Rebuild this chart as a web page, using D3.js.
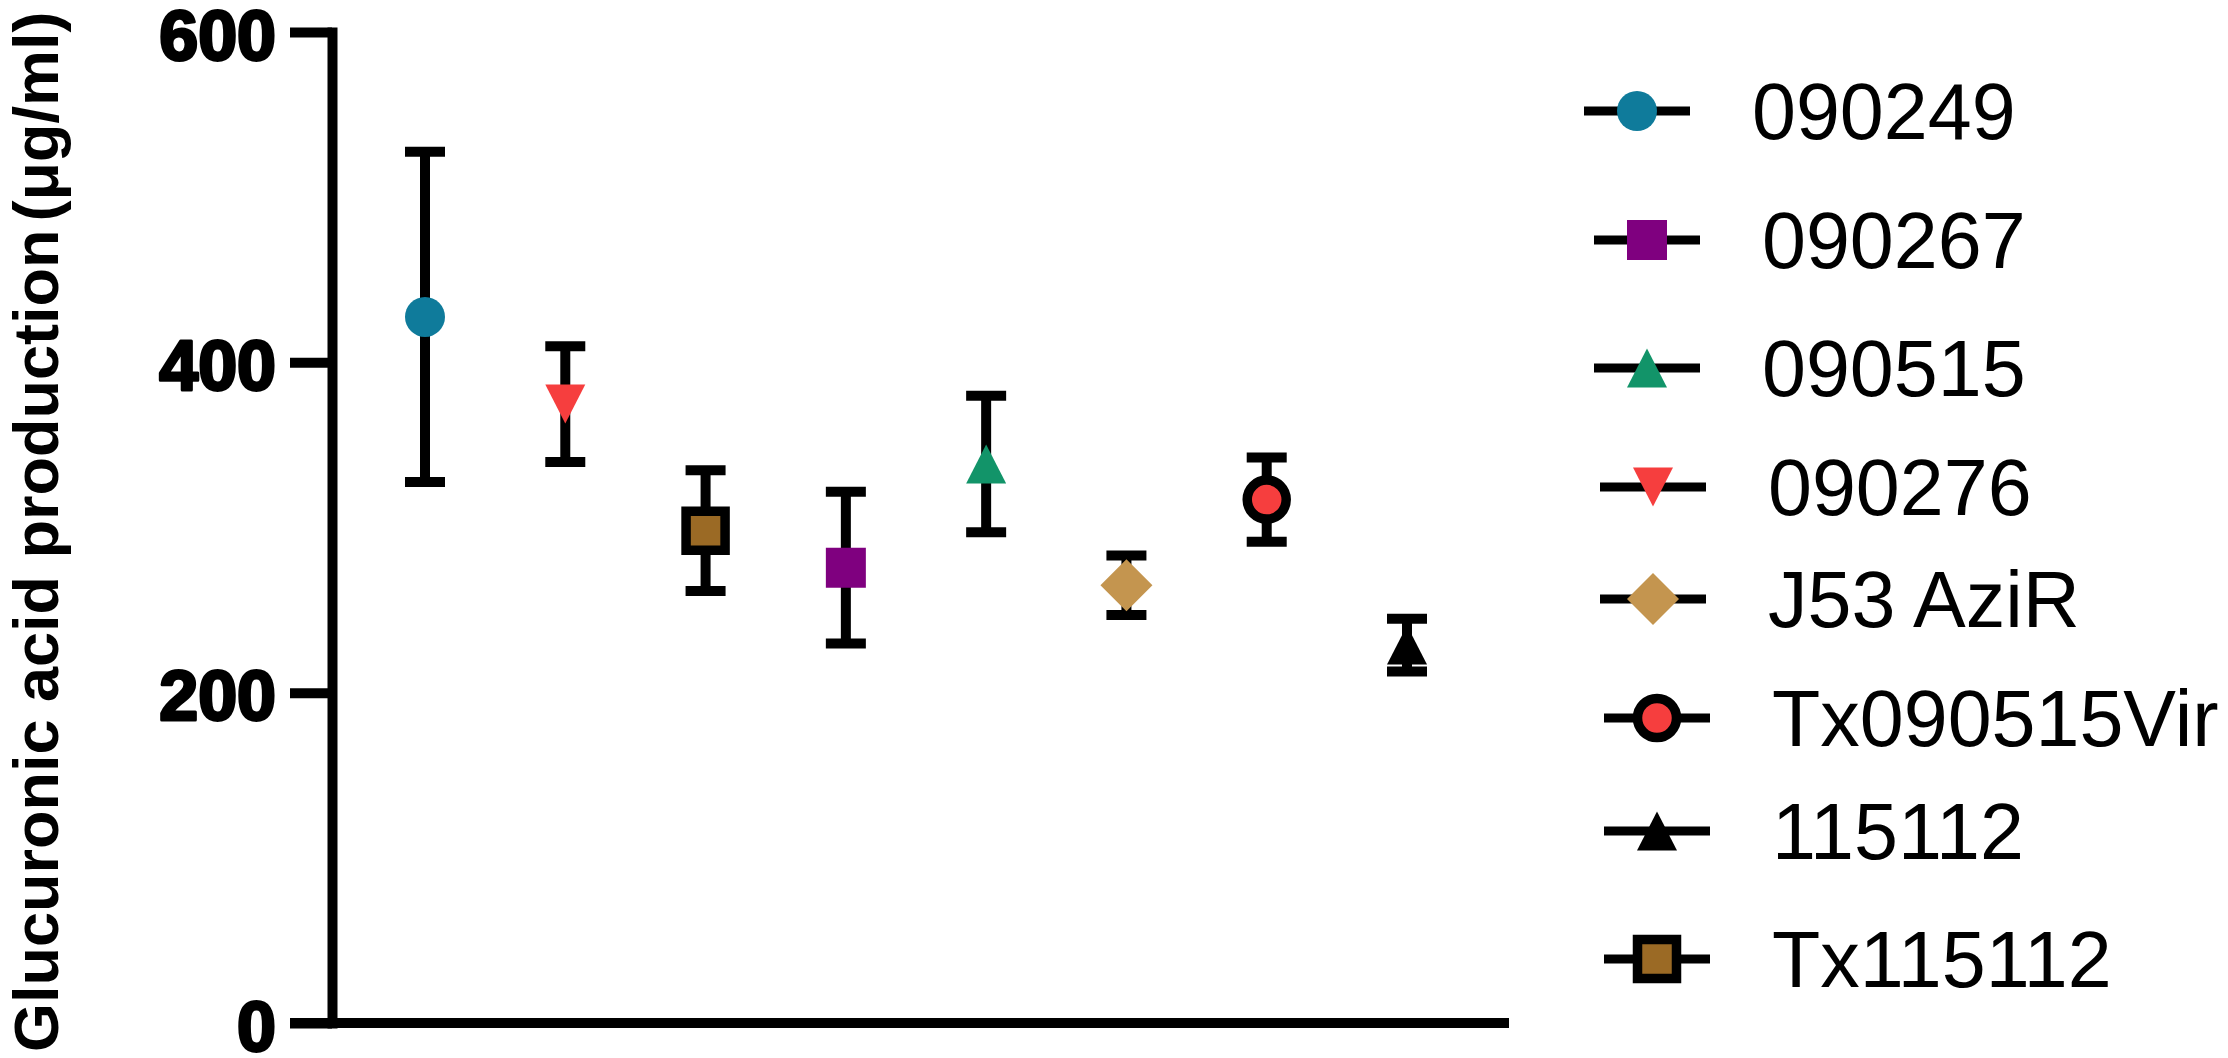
<!DOCTYPE html>
<html>
<head>
<meta charset="utf-8">
<script src="https://cdn.jsdelivr.net/npm/d3@7"></script>
<style>
  html, body { margin: 0; padding: 0; background: #fff; }
  svg { display: block; }
</style>
</head>
<body>
<svg id="chart" width="2228" height="1058"></svg>
<script>
// ---------- data ----------
const categories = ["090249", "090276", "Tx115112", "090267", "090515", "J53 AziR", "Tx090515Vir", "115112"];
const means      = [427.5, 374.7, 298.1, 275.7, 338.4, 265.0, 316.9, 228.8];
const sds        = [100.0, 35.0, 36.6, 46.0, 41.3, 18.0, 25.5, 16.0];
const legendOrder = ["090249", "090267", "090515", "090276", "J53 AziR", "Tx090515Vir", "115112", "Tx115112"];
const yTicks = [0, 200, 400, 600];
const yTitleMain = "Glucuronic acid production";
const yTitleUnit = "(μg/ml)";

// ---------- styles ----------
const styles = {
  "090249":      { shape: "circle",   fill: "#0F7B9B", stroke: "none" },
  "090267":      { shape: "square",   fill: "#7F007F", stroke: "none" },
  "090515":      { shape: "triUp",    fill: "#129469", stroke: "none" },
  "090276":      { shape: "triDown",  fill: "#F63E3E", stroke: "none" },
  "J53 AziR":    { shape: "diamond",  fill: "#C4954F", stroke: "none" },
  "Tx090515Vir": { shape: "circleO",  fill: "#F63E3E", stroke: "#000" },
  "115112":      { shape: "triUp",    fill: "#000000", stroke: "none" },
  "Tx115112":    { shape: "squareO",  fill: "#9B6A25", stroke: "#000" }
};

function shapePath(shape) {
  switch (shape) {
    case "circle":  { const r = 20; return `M${-r},0A${r},${r} 0 1,0 ${r},0A${r},${r} 0 1,0 ${-r},0Z`; }
    case "circleO": { const r = 19.5; return `M${-r},0A${r},${r} 0 1,0 ${r},0A${r},${r} 0 1,0 ${-r},0Z`; }
    case "square":  { const h = 20; return `M${-h},${-h}H${h}V${h}H${-h}Z`; }
    case "squareO": { const h = 19.5; return `M${-h},${-h}H${h}V${h}H${-h}Z`; }
    case "triUp":   { const w = 20, h = 19.5; return `M0,${-h}L${w},${h}L${-w},${h}Z`; }
    case "triDown": { const w = 20, h = 19.5; return `M${-w},${-h}L${w},${-h}L0,${h}Z`; }
    case "diamond": { const h = 26; return `M0,${-h}L${h},0L0,${h}L${-h},0Z`; }
  }
}

// ---------- layout ----------
const svg = d3.select("#chart");
svg.append("rect").attr("width", 2228).attr("height", 1058).attr("fill", "#fff");

const axisX = 332, tickLen = 42, xEnd = 1509;
const y = d3.scaleLinear().domain([0, 600]).range([1023, 32]);
const x = d3.scalePoint().domain(categories).range([425, 1407]);

// y axis
const yAxis = d3.axisLeft(y).tickValues(yTicks).tickSize(tickLen).tickSizeOuter(0).tickPadding(14);
const gy = svg.append("g").attr("transform", `translate(${axisX},0)`).call(yAxis);
gy.select(".domain").attr("stroke", "#000").attr("stroke-width", 10).attr("stroke-linecap", "square");
gy.selectAll(".tick line").attr("stroke", "#000").attr("stroke-width", 10);
gy.selectAll(".tick text")
  .attr("font-family", "'Liberation Sans', Arial, sans-serif")
  .attr("font-weight", "bold")
  .attr("font-size", 70)
  .attr("fill", "#000")
  .attr("stroke", "#000")
  .attr("stroke-width", 3)
  .attr("stroke-linejoin", "round")
  .attr("dy", "0.39em");

// x axis line
svg.append("line")
  .attr("x1", axisX - tickLen).attr("x2", xEnd)
  .attr("y1", y(0)).attr("y2", y(0))
  .attr("stroke", "#000").attr("stroke-width", 10);

// y title
const yt = svg.append("text")
  .attr("transform", `translate(58,1052) rotate(-90)`)
  .attr("font-family", "'Liberation Sans', Arial, sans-serif")
  .attr("font-weight", "bold")
  .attr("font-size", 63)
  .attr("fill", "#000");
yt.append("tspan").text(yTitleMain);
yt.append("tspan").attr("dx", 8).text(yTitleUnit);

// ---------- error bars ----------
const capW = 40;
const pts = categories.map((c, i) => ({ c, m: means[i], s: sds[i] }));
const eb = svg.append("g").attr("stroke", "#000").attr("stroke-width", 10);
pts.forEach(p => {
  const cx = x(p.c);
  eb.append("line").attr("x1", cx).attr("x2", cx).attr("y1", y(p.m + p.s)).attr("y2", y(p.m - p.s));
  eb.append("line").attr("x1", cx - capW / 2).attr("x2", cx + capW / 2).attr("y1", y(p.m + p.s)).attr("y2", y(p.m + p.s));
  eb.append("line").attr("x1", cx - capW / 2).attr("x2", cx + capW / 2).attr("y1", y(p.m - p.s)).attr("y2", y(p.m - p.s));
});

// ---------- markers ----------
function drawMarker(g, name, cx, cy) {
  const st = styles[name];
  g.append("path")
    .attr("d", shapePath(st.shape))
    .attr("transform", `translate(${cx},${cy})`)
    .attr("fill", st.fill)
    .attr("stroke", st.stroke)
    .attr("stroke-width", st.stroke === "none" ? 0 : 9.5);
}
const mk = svg.append("g");
pts.forEach(p => drawMarker(mk, p.c, x(p.c), y(p.m)));

// ---------- legend ----------
const legendRowY = [111, 240, 368, 487, 599, 718, 831, 959];
const legendLineX = [1584, 1594, 1594, 1600, 1600, 1604, 1604, 1604];
const lineLen = 106, textGap = 168;
const lg = svg.append("g");
legendOrder.forEach((name, i) => {
  const ly = legendRowY[i], lx = legendLineX[i];
  lg.append("line").attr("x1", lx).attr("x2", lx + lineLen).attr("y1", ly).attr("y2", ly)
    .attr("stroke", "#000").attr("stroke-width", 9);
  drawMarker(lg, name, lx + lineLen / 2, ly);
  lg.append("text")
    .attr("x", lx + textGap).attr("y", ly).attr("dy", "0.36em")
    .attr("font-family", "'Liberation Sans', Arial, sans-serif")
    .attr("font-size", 79)
    .attr("fill", "#000")
    .text(name);
});
</script>
</body>
</html>
